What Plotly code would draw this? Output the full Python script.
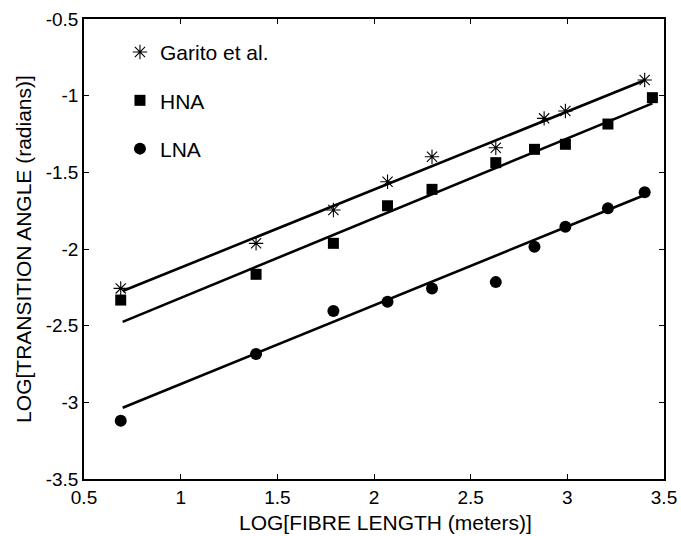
import plotly.graph_objects as go

# ---- data ----
garito_x = [0.69, 1.39, 1.79, 2.07, 2.30, 2.63, 2.88, 2.99, 3.40]
garito_y = [-2.257, -1.963, -1.746, -1.561, -1.398, -1.340, -1.148, -1.100, -0.898]

hna_x = [0.69, 1.39, 1.79, 2.07, 2.30, 2.63, 2.83, 2.99, 3.21, 3.44]
hna_y = [-2.333, -2.165, -1.963, -1.718, -1.611, -1.437, -1.350, -1.317, -1.185, -1.013]

lna_x = [0.69, 1.39, 1.79, 2.07, 2.30, 2.63, 2.83, 2.99, 3.21, 3.40]
lna_y = [-3.120, -2.685, -2.405, -2.344, -2.257, -2.216, -1.985, -1.855, -1.735, -1.630]

# fitted straight lines (end points)
garito_fit_x = [0.70, 3.40]
garito_fit_y = [-2.274, -0.900]
hna_fit_x = [0.70, 3.44]
hna_fit_y = [-2.475, -1.050]
lna_fit_x = [0.70, 3.40]
lna_fit_y = [-3.035, -1.648]

x_tickvals = [0.5, 1, 1.5, 2, 2.5, 3, 3.5]
x_ticktext = ["0.5", "1", "1.5", "2", "2.5", "3", "3.5"]
y_tickvals = [-3.5, -3, -2.5, -2, -1.5, -1, -0.5]
y_ticktext = ["-3.5", "-3", "-2.5", "-2", "-1.5", "-1", "-0.5"]

FONT = "Liberation Sans, Arial, Helvetica, sans-serif"

fig = go.Figure()

series = [
    ("Garito et al.", garito_x, garito_y, garito_fit_x, garito_fit_y, "asterisk-open", 12, 1.1),
    ("HNA", hna_x, hna_y, hna_fit_x, hna_fit_y, "square", 11, 0),
    ("LNA", lna_x, lna_y, lna_fit_x, lna_fit_y, "circle", 12, 0),
]

for name, xs, ys, fx, fy, sym, size, lw in series:
    fig.add_trace(go.Scatter(
        x=fx, y=fy, mode="lines",
        line=dict(color="black", width=2.6),
        showlegend=False, hoverinfo="skip",
    ))
    fig.add_trace(go.Scatter(
        x=xs, y=ys, mode="markers", name=name, legendgroup=name,
        marker=dict(symbol=sym, size=size, color="black",
                    line=dict(color="black", width=lw)),
    ))

axis_common = dict(
    showgrid=False, zeroline=False, showline=True, linecolor="black",
    linewidth=1.5, mirror="ticks", ticks="inside", ticklen=5,
    tickcolor="black", tickwidth=1, automargin=False,
    tickfont=dict(family=FONT, size=19, color="black"),
)

fig.update_xaxes(
    range=[0.5, 3.5], tickvals=x_tickvals, ticktext=x_ticktext,
    **axis_common,
)
fig.update_yaxes(
    range=[-3.5, -0.5], tickvals=y_tickvals, ticktext=y_ticktext,
    title=dict(text="LOG[TRANSITION ANGLE (radians)]", standoff=8,
               font=dict(family=FONT, size=21, color="black")),
    **axis_common,
)

fig.add_annotation(
    text="LOG[FIBRE LENGTH (meters)]", xref="paper", yref="paper",
    x=0.52, y=-0.066, xanchor="center", yanchor="top", showarrow=False,
    font=dict(family=FONT, size=21, color="black"),
)

fig.update_layout(
    width=681, height=536,
    margin=dict(l=84, r=17, t=19, b=57),
    paper_bgcolor="white", plot_bgcolor="white",
    font=dict(family=FONT, size=20, color="black"),
    legend=dict(
        x=0.062, y=0.972, xanchor="left", yanchor="top",
        bgcolor="rgba(0,0,0,0)", borderwidth=0,
        font=dict(family=FONT, size=21, color="black"),
        tracegroupgap=18,
    ),
)

fig.write_html("out.html", config={"displayModeBar": False},
               post_script="document.body.style.margin='0';")
